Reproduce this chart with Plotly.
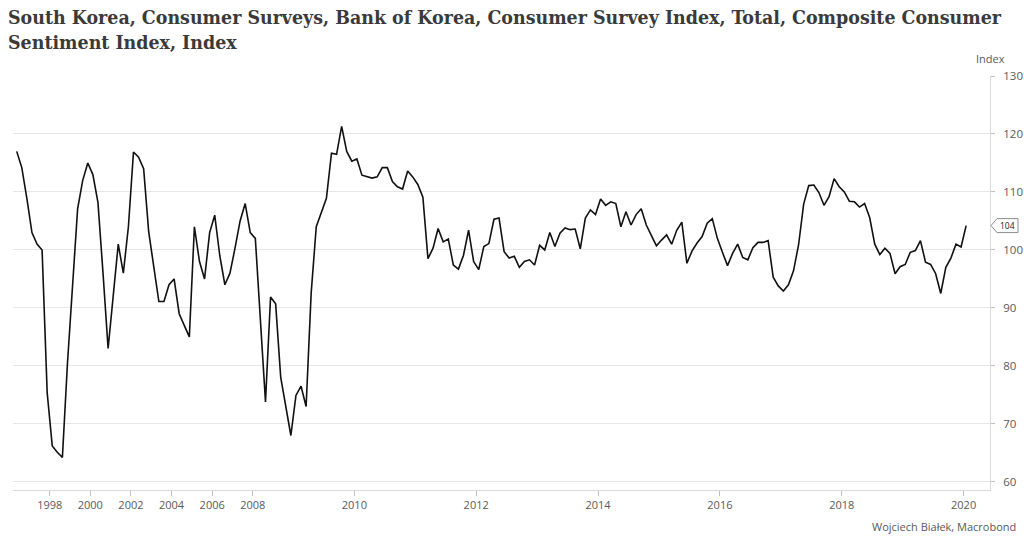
import plotly.graph_objects as go
import pandas as pd

# ---- data ----
quarter_periods = pd.period_range("1996Q2", "2008Q2", freq="Q")
month_periods = pd.period_range("2008-07", "2020-01", freq="M")

quarterly_values = [
    117.0, 114.2, 108.9, 103.0, 101.0, 100.0, 75.4, 66.2, 65.1, 64.2,
    80.5, 93.5, 107.1, 112.0, 115.0, 113.0, 108.2, 96.0, 83.0, 92.0,
    101.0, 96.0, 104.0, 116.9, 116.0, 114.0, 103.1, 97.1, 91.1, 91.1,
    94.0, 95.0, 89.0, 87.0, 85.0, 104.0, 98.0, 95.0, 103.0, 106.0,
    99.0, 94.0, 96.0, 100.3, 105.0, 108.0, 103.0, 102.0, 88.0,
]

monthly_values = [
    # 2008 Jul-Dec
    73.8, 91.9, 90.7, 78.0, 73.1, 68.0,
    # 2009
    74.9, 76.5, 73.0, 92.6, 104.0, 106.3, 108.9, 116.7, 116.5, 121.3, 117.0, 115.3,
    # 2010
    115.7, 112.9, 112.7, 112.4, 112.6, 114.2, 114.2, 111.8, 110.9, 110.5, 113.6, 112.6,
    # 2011
    111.3, 109.1, 98.5, 100.3, 103.7, 101.4, 101.9, 97.4, 96.7, 99.1, 103.4, 98.0,
    # 2012
    96.6, 100.6, 101.1, 105.3, 105.5, 99.7, 98.6, 98.9, 97.0, 98.0, 98.3, 97.4,
    # 2013
    100.8, 100.0, 103.0, 100.6, 102.9, 103.8, 103.5, 103.6, 100.2, 105.5, 106.9, 106.1,
    # 2014
    108.8, 107.7, 108.3, 108.0, 104.0, 106.6, 104.3, 106.1, 107.1, 104.3, 102.5, 100.7,
    # 2015
    101.7, 102.6, 101.0, 103.4, 104.8, 97.7, 99.8, 101.2, 102.3, 104.6, 105.4, 102.0,
    # 2016
    99.6, 97.3, 99.4, 101.0, 98.7, 98.3, 100.4, 101.3, 101.3, 101.6, 95.3, 93.8,
    # 2017
    92.9, 94.0, 96.4, 100.9, 107.9, 111.1, 111.2, 109.9, 107.7, 109.2, 112.3, 110.9,
    # 2018
    110.0, 108.4, 108.3, 107.4, 108.0, 105.6, 101.0, 99.2, 100.3, 99.4, 95.9, 97.1,
    # 2019
    97.5, 99.6, 99.9, 101.6, 97.9, 97.5, 95.9, 92.5, 97.0, 98.6, 101.0, 100.5,
    # 2020
    104.2,
]

tick_years = [1998, 2000, 2002, 2004, 2006, 2008, 2010, 2012, 2014, 2016, 2018, 2020]

title_line1 = "South Korea, Consumer Surveys, Bank of Korea, Consumer Survey Index, Total, Composite Consumer"
title_line2 = "Sentiment Index, Index"
axis_title = "Index"
source_text = "Wojciech Białek, Macrobond"

# ---- build observation axis (one slot per observation) ----
obs_labels = [str(p) for p in quarter_periods] + [p.strftime("%Y-%m") for p in month_periods]
obs_years = [p.year for p in quarter_periods] + [p.year for p in month_periods]
values = quarterly_values + monthly_values
x_pos = list(range(len(values)))

tickvals = [obs_years.index(y) - 0.5 for y in tick_years]
ticktext = [str(y) for y in tick_years]

grey_text = "#595959"
tick_font = dict(family="Open Sans, Noto Sans, sans-serif", size=11, color=grey_text)

fig = go.Figure()
fig.add_trace(go.Scatter(
    x=x_pos, y=values, mode="lines",
    line=dict(color="#111111", width=1.6),
    text=obs_labels, hovertemplate="%{text}: %{y}<extra></extra>",
    showlegend=False,
))

fig.update_layout(
    width=1024, height=542,
    margin=dict(l=13, r=34, t=76, b=52, autoexpand=False),
    paper_bgcolor="white", plot_bgcolor="white",
    xaxis=dict(
        range=[-0.73, 191.7], showgrid=False, zeroline=False, automargin=False,
        showline=True, linecolor="#d9d9d9", linewidth=1,
        ticks="outside", ticklen=5, tickcolor="#bfbfbf",
        tickvals=tickvals, ticktext=ticktext, tickfont=tick_font,
    ),
    yaxis=dict(
        side="right", range=[58.6, 130], tick0=60, dtick=10, automargin=False,
        showgrid=True, gridcolor="#e6e6e6", gridwidth=1, zeroline=False,
        showline=True, linecolor="#d9d9d9", linewidth=1,
        ticks="outside", ticklen=4, tickcolor="#bfbfbf",
        ticklabelstandoff=6,
        tickfont=dict(family="Open Sans, Noto Sans, sans-serif", size=11.5, color=grey_text),
    ),
)

title_font = dict(family="DejaVu Serif Condensed, Liberation Serif, serif", size=19.4, color="#3a3a3a")
fig.add_annotation(text="<b>" + title_line1 + "<br>" + title_line2 + "</b>",
                   xref="paper", yref="paper", align="left",
                   x=-7 / 977, y=(490 - 4) / 414, xanchor="left", yanchor="top",
                   showarrow=False, font=title_font)

fig.add_annotation(text=axis_title, xref="paper", yref="paper", x=1.0, y=(490 - 58) / 414,
                   xanchor="center", yanchor="middle", showarrow=False, font=tick_font)
fig.add_annotation(text=source_text, xref="paper", yref="paper", x=(1018 - 13) / 977,
                   y=(490 - 526) / 414, xanchor="right", yanchor="middle", showarrow=False,
                   font=dict(family="Open Sans, Noto Sans, sans-serif", size=11, color=grey_text))

# last-value callout
last_val = values[-1]
fig.add_shape(type="path", xref="paper", yref="y", xsizemode="pixel", ysizemode="pixel",
              xanchor=1, yanchor=last_val,
              path="M 1 0 L 7 7 L 28 7 L 28 -7 L 7 -7 Z",
              line=dict(color="#8c8c8c", width=1), fillcolor="white", layer="above")
fig.add_annotation(text=f"{last_val:.0f}", xref="paper", yref="y", x=1.0, y=last_val,
                   xanchor="center", yanchor="middle", xshift=17, showarrow=False,
                   font=dict(family="Open Sans, Noto Sans, sans-serif", size=8.5, color="#222222"))

fig.write_html("out.html", config={"displayModeBar": False},
               post_script="document.body.style.margin='0px';")
